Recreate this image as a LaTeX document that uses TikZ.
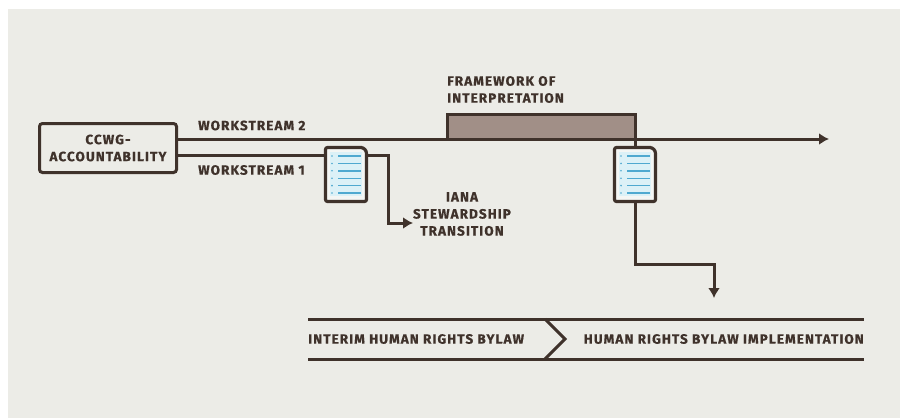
\documentclass[tikz,border=0pt]{standalone}
\usepackage{fontspec}
\setmainfont[LetterSpace=8,BoldFeatures={FakeBold=0.6}]{Fira Sans}
\usetikzlibrary{arrows.meta,calc}
\definecolor{panel}{HTML}{ECECE7}
\definecolor{ink}{HTML}{3F322B}
\definecolor{brownfill}{HTML}{A18F87}
\definecolor{docblue}{HTML}{DCF1F7}
\definecolor{docline}{HTML}{4FA9D0}
\definecolor{docpaper}{HTML}{F4F6F4}
\tikzset{
  x=1pt,y=-1pt,
  lbl/.style={font=\fontsize{13.5}{17}\selectfont\bfseries,text=ink,inner sep=0pt,align=center},
  wire/.style={draw=ink,line width=3pt},
  arrowwire/.style={wire,-{Latex[length=10pt,width=12pt]}},
  rail/.style={draw=ink,line width=3pt},
  docbox/.style={minimum width=41pt,minimum height=54pt,inner sep=0pt,outer sep=1.5pt},
  docframe/.style={draw=ink,line width=3.2pt,fill=docpaper,line join=round},
  docrow/.style={draw=docline,line width=1.4pt},
}
\begin{document}
\begin{tikzpicture}
\useasboundingbox (0,0) rectangle (900,418);
\fill[white] (0,0) rectangle (900,418);
\fill[panel] (8,9) rectangle (900,418);
% framework
\node[draw=ink,line width=3pt,fill=brownfill,minimum width=188pt,minimum height=25pt,inner sep=0pt,outer sep=0pt,anchor=north west] (fw) at (447,114) {};
% source
\node[draw=ink,line width=3pt,fill=panel,rounded corners=3pt,minimum width=137pt,minimum height=49pt,inner sep=0pt,outer sep=0pt,lbl] (src) at (108,148) {CCWG-\\ACCOUNTABILITY};
% docs
\node[docbox] (d1) at (346,174.5) {};
\node[docbox] (d2) at (635,174.5) {};
\coordinate (ws2end) at (829,139);
\coordinate (ws2start) at (src.east |- ws2end);
\coordinate (ws1start) at (177,155.5);
\coordinate (ws1d) at (d1.west |- ws1start);
\coordinate (ws1e) at (d1.east |- ws1start);
\coordinate (iana) at (413,223);
\coordinate (bylaw) at (714,298);
\draw[arrowwire] (ws2start) -- (ws2end);
\draw[wire] (ws1start) -- (ws1d);
\draw[arrowwire] (ws1e) -| (388,223) -- (iana);
\draw[wire] (fw.south east) -- (d2.north);
\draw[arrowwire] (d2.south) -- (635,264) -| (bylaw);
\foreach \d in {d1,d2}{
  \draw[docframe,rounded corners=2pt]
    ($(\d.center)+(-20.5,-27)$) -- ($(\d.center)+(14,-27)$)
    [rounded corners=6pt] -- ($(\d.center)+(20.5,-27)$)
    [rounded corners=2pt] -- ($(\d.center)+(20.5,27)$) -- ($(\d.center)+(-20.5,27)$) -- cycle;
  \fill[docblue] ($(\d.center)+(-16,-23)$) rectangle ($(\d.center)+(16,21)$);
  \foreach \k in {0,1,2,3,4,5}{
    \draw[docrow] ($(\d.center)+(-8,-18.5+7.4*\k)$) -- ++(23,0);
    \fill[docline] ($(\d.center)+(-14,-18.5+7.4*\k)$) circle (0.9);
  }
}
% labels
\node[lbl,anchor=west] (l2) at (198,125.5) {WORKSTREAM 2};
\node[lbl,anchor=west] (l1) at (198,170) {WORKSTREAM 1};
\node[lbl,anchor=west,align=left] (fwl) at (447,89.5) {FRAMEWORK OF\\INTERPRETATION};
\node[lbl] (il) at (462,214) {IANA\\STEWARDSHIP\\TRANSITION};
% rails
\coordinate (ra) at (308,319);
\coordinate (rb) at (864,319);
\coordinate (rc) at (308,359);
\coordinate (rd) at (864,359);
\coordinate (ca) at (545,319);
\coordinate (cb) at (565,339);
\coordinate (cc) at (545,359);
\draw[rail] (ra) -- (rb);
\draw[rail] (rc) -- (rd);
\draw[rail,line join=miter] (ca) -- (cb) -- (cc);
\node[lbl,anchor=west] (t1) at (308,339) {INTERIM HUMAN RIGHTS BYLAW};
\node[lbl,anchor=east] (t2) at (864,339) {HUMAN RIGHTS BYLAW IMPLEMENTATION};
\end{tikzpicture}
\end{document}
